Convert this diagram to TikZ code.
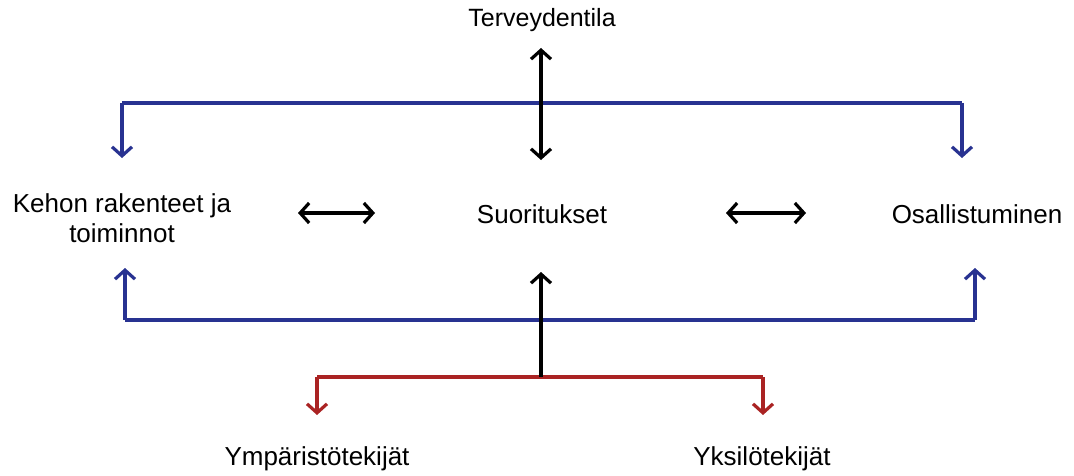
\documentclass[tikz,border=0pt]{standalone}
\usepackage{fontspec}
\setmainfont{Liberation Sans}
\usetikzlibrary{arrows.meta}
\definecolor{navy}{RGB}{40,50,145}
\definecolor{darkred}{RGB}{170,35,35}
\begin{document}
\begin{tikzpicture}[x=1pt,y=1pt,
  lbl/.style={inner sep=0pt, font=\fontsize{26}{30}\selectfont, anchor=base},
  tip/.tip={Straight Barb[length=9pt,width=20pt,line width=3.2pt]},
  plain/.style={line width=3.2pt},
  conn/.style={line width=3.2pt, -tip},
  dconn/.style={line width=3.2pt, tip-tip},
  bluel/.style={navy},
  redl/.style={darkred}]
\useasboundingbox (0,0) rectangle (1074,475);
% text nodes
\node[lbl, font=\fontsize{25}{30}\selectfont] (terv) at (542,448) {Terveydentila};
\node[lbl] (suor) at (542,252) {Suoritukset};
\node[lbl] (osal) at (977,252) {Osallistuminen};
\node[lbl, align=center] (keho) at (122,233) {Kehon rakenteet ja\\toiminnot};
\node[lbl] (ymp) at (317,10) {Ympäristötekijät};
\node[lbl] (yks) at (762,10) {Yksilötekijät};
% coordinates
\coordinate (tT) at (541,427);
\coordinate (tB) at (541,315);
\coordinate (b1L) at (122,372);
\coordinate (b1R) at (962,372);
\coordinate (b1La) at (122,317);
\coordinate (b1Ra) at (962,317);
\coordinate (b2L) at (125,155);
\coordinate (b2R) at (975,155);
\coordinate (b2La) at (125,207);
\coordinate (b2Ra) at (975,207);
\coordinate (hL1) at (298,262);
\coordinate (hL2) at (375,262);
\coordinate (hR1) at (726,262);
\coordinate (hR2) at (806,262);
\coordinate (rM) at (541,98);
\coordinate (rL) at (317,98);
\coordinate (rR) at (763,98);
\coordinate (rLa) at (317,60);
\coordinate (rRa) at (763,60);
\coordinate (up) at (541,203);
% blue top
\draw[bluel, plain] (b1L) -- (b1R);
\draw[bluel, conn] (b1L) -- (b1La);
\draw[bluel, conn] (b1R) -- (b1Ra);
% blue bottom
\draw[bluel, plain] (b2L) -- (b2R);
\draw[bluel, conn] (b2L) -- (b2La);
\draw[bluel, conn] (b2R) -- (b2Ra);
% red
\draw[redl, plain] (rL) -- (rR);
\draw[redl, conn] (rL) -- (rLa);
\draw[redl, conn] (rR) -- (rRa);
% black
\draw[dconn] (tT) -- (tB);
\draw[dconn] (hL1) -- (hL2);
\draw[dconn] (hR1) -- (hR2);
\draw[conn] (rM) -- (up);
\end{tikzpicture}
\end{document}
